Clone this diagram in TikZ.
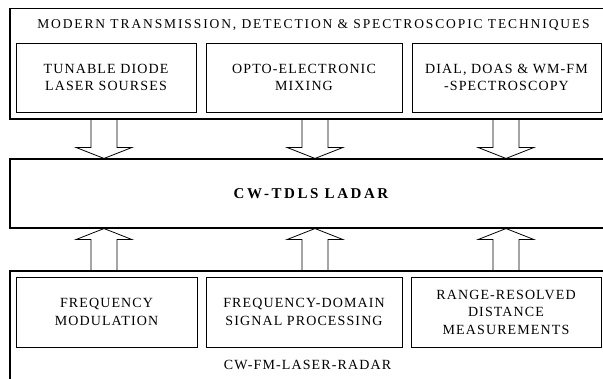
\documentclass[tikz,border=0pt]{standalone}
\usepackage{fontspec}
\setmainfont[LetterSpace=8]{Liberation Serif}
\newfontfamily\headfont[LetterSpace=14]{Liberation Serif}
\newfontfamily\ladarfont[LetterSpace=17]{Liberation Serif}
\usetikzlibrary{calc}

\newcommand\lblfont{\fontsize{14}{17.5}\selectfont}

\tikzset{
	bigbox/.style={draw, line width=1.1pt, minimum width=602pt, inner sep=0pt},
	techbox/.style={draw, line width=0.9pt, inner sep=0pt, align=center, font=\lblfont},
	arrowline/.style={line width=0.8pt, line join=miter}
}

% hollow block arrow from #1 to the tip #2
\newcommand\hollowarrow[2]{%
	\coordinate (from) at (#1);
	\coordinate (tip) at (#2);
	\coordinate (hb) at ($(tip)!11pt!(from)$);
	\draw[arrowline] ($(from)+(-13pt,0)$) -- ($(hb)+(-13pt,0)$) -- ($(hb)+(-28pt,0)$) -- (tip)
		-- ($(hb)+(28pt,0)$) -- ($(hb)+(13pt,0)$) -- ($(from)+(13pt,0)$);
}

\begin{document}
\begin{tikzpicture}[x=1pt, y=-1pt]
	\useasboundingbox (0,0) rectangle (603,379);
	\clip (0,0) rectangle (603,379);

% 1. techniques on top
\node[bigbox, minimum height=110.5pt] (tech) at (311,63.75) {};
\node[font=\headfont\fontsize{13.5}{16}\selectfont] (techtitle) at (313.5,25) {MODERN TRANSMISSION, DETECTION \& SPECTROSCOPIC TECHNIQUES};
\node[techbox, minimum width=180pt, minimum height=69pt] (tdl) at (106,77.5) {TUNABLE DIODE\\LASER SOURSES};
\node[techbox, minimum width=196pt, minimum height=69pt] (oem) at (304,77.5) {OPTO-ELECTRONIC\\MIXING};
\node[techbox, minimum width=189pt, minimum height=69pt] (dial) at (506.5,77.5) {DIAL, DOAS \& WM-FM\\-SPECTROSCOPY};

% 2. the ladar
\node[bigbox, minimum height=69pt, font=\ladarfont\bfseries\fontsize{15}{17}\selectfont] (ladar) at (311,193.5) {CW-TDLS LADAR};

% 3. laser radar at the bottom
\node[bigbox, minimum height=121pt] (radar) at (311,331.5) {};
\node[techbox, minimum width=181pt, minimum height=70pt] (fm) at (106.5,312) {FREQUENCY\\MODULATION};
\node[techbox, minimum width=196pt, minimum height=70pt] (fdsp) at (304,312) {FREQUENCY-DOMAIN\\SIGNAL PROCESSING};
\node[techbox, minimum width=190pt, minimum height=70pt] (rrdm) at (506,312) {RANGE-RESOLVED\\DISTANCE\\MEASUREMENTS};
\node[font=\lblfont] (radartitle) at (307.5,365) {CW-FM-LASER-RADAR};

		\foreach \ax in {104,315,506} {
			\hollowarrow{tech.south -| \ax,0}{ladar.north -| \ax,0}
			\hollowarrow{radar.north -| \ax,0}{ladar.south -| \ax,0}
		}
	\end{tikzpicture}
\end{document}
